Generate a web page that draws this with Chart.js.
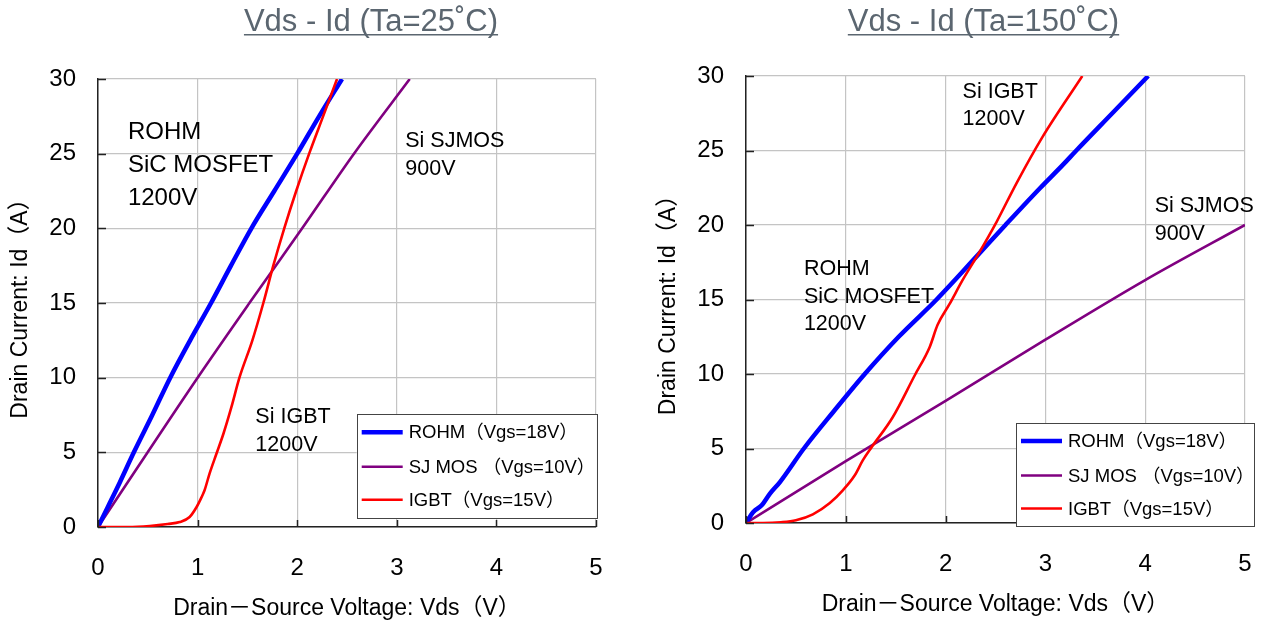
<!DOCTYPE html>
<html><head><meta charset="utf-8">
<script src="https://cdn.jsdelivr.net/npm/chart.js@4.4.1/dist/chart.umd.min.js"></script>
<style>
html,body{margin:0;padding:0;background:#fff;}
#wrap{position:relative;width:1262px;height:626px;overflow:hidden;background:#fff;}
canvas{position:absolute;top:0;}
</style></head><body>
<div id="wrap">
<canvas id="c25" width="631" height="626" style="left:0px"></canvas>
<canvas id="c150" width="631" height="626" style="left:631px"></canvas>
</div>
<script>
// ---------- data ----------
const xTicks = [0, 1, 2, 3, 4, 5];
const yTicks = [0, 5, 10, 15, 20, 25, 30];
const seriesLabels = ['ROHM（Vgs=18V）', 'SJ MOS （Vgs=10V）', 'IGBT（Vgs=15V）'];
const chartTitles = ['Vds - Id (Ta=25˚C)', 'Vds - Id (Ta=150˚C)'];
const xTitle = 'Drain－Source Voltage: Vds（V）';
const yTitle = 'Drain Current: Id（A）';

// Ta = 25 C
const rohm25V = [0, 0.10, 0.22, 0.36, 0.545, 0.725, 0.925, 1.135, 1.335, 1.54, 1.77, 2.0, 2.22, 2.45];
const rohm25I = [0, 1.36, 3.0, 5.0, 7.5, 10, 12.5, 15, 17.5, 20, 22.5, 25, 27.5, 30];
const sj25V = [0, 1.0, 1.52, 2.05, 2.57, 3.13];
const sj25I = [0, 10, 15, 20, 25, 30];
const igbt25V = [0, 0.3, 0.52, 0.7, 0.82, 0.92, 0.99, 1.04, 1.07, 1.12, 1.19, 1.26, 1.34, 1.42, 1.55, 1.66, 1.76, 1.87, 1.99, 2.12, 2.26, 2.40];
const igbt25I = [0, 0, 0.07, 0.2, 0.33, 0.67, 1.34, 2.0, 2.46, 3.58, 4.92, 6.26, 8.04, 10, 12.5, 15, 17.5, 20, 22.5, 25, 27.5, 30];

// Ta = 150 C
const rohm150V = [0, 0.073, 0.157, 0.24, 0.34, 0.58, 0.88, 1.19, 1.53, 1.91, 2.32, 2.6, 2.95, 3.17, 3.31, 3.67, 4.03];
const rohm150I = [0, 0.74, 1.19, 1.97, 2.75, 5, 7.5, 10, 12.5, 15, 17.96, 20, 22.5, 24, 25, 27.5, 30];
const sj150V = [0, 1, 2, 3, 4, 5];
const sj150I = [0, 4.15, 8.2, 12.3, 16.3, 20];
const igbt150V = [0, 0.17, 0.35, 0.5, 0.67, 0.84, 0.97, 1.09, 1.17, 1.26, 1.47, 1.69, 1.84, 1.92, 2.04, 2.17, 2.32, 2.51, 2.71, 2.97, 3.37];
const igbt150I = [0, 0, 0.05, 0.18, 0.58, 1.34, 2.19, 3.2, 4.2, 5.1, 7.1, 9.9, 11.8, 13.3, 14.7, 16.3, 17.96, 20.2, 22.8, 25.9, 30];

// annotation texts
const notes25Text = [['ROHM', 'SiC MOSFET', '1200V'], ['Si SJMOS', '900V'], ['Si IGBT', '1200V']];
const notes150Text = [['Si IGBT', '1200V'], ['ROHM', 'SiC MOSFET', '1200V'], ['Si SJMOS', '900V']];

// ---------- styling / layout ----------
const FONT = "'Liberation Sans','Noto Sans CJK JP',Arial,sans-serif";
const COLORS = ['#0000ff', '#800080', '#ff0000'];
const WIDTHS = [4.5, 2.6, 2.6];
const ORDERS = [1, 2, 0];

function pts(xs, ys) { return xs.map((x, i) => ({x: x, y: ys[i]})); }

function makeSets(vArrs, iArrs) {
  return vArrs.map((v, k) => ({
    label: seriesLabels[k],
    data: pts(v, iArrs[k]),
    borderColor: COLORS[k],
    backgroundColor: COLORS[k],
    borderWidth: WIDTHS[k],
    pointRadius: 0,
    showLine: true,
    cubicInterpolationMode: 'monotone',
    order: ORDERS[k]
  }));
}

const decor = {
  id: 'decor',
  afterDraw(chart, args, o) {
    const ctx = chart.ctx, a = chart.chartArea, xs = chart.scales.x, ys = chart.scales.y;
    ctx.save();
    // inner tick marks
    ctx.strokeStyle = '#222'; ctx.lineWidth = 1.5;
    yTicks.forEach(t => {
      const p = Math.round(ys.getPixelForValue(t)) + 0.5;
      ctx.beginPath(); ctx.moveTo(a.left, p); ctx.lineTo(a.left + 8, p); ctx.stroke();
    });
    xTicks.forEach(t => {
      const p = Math.round(xs.getPixelForValue(t)) + 0.5;
      ctx.beginPath(); ctx.moveTo(p, a.bottom); ctx.lineTo(p, a.bottom - 7); ctx.stroke();
    });
    // title with underline
    ctx.font = '31px ' + FONT; ctx.fillStyle = '#5b6670';
    ctx.textAlign = 'center'; ctx.textBaseline = 'alphabetic';
    ctx.fillText(o.title, o.titleX, o.titleY);
    const w = ctx.measureText(o.title).width;
    ctx.fillRect(o.titleX - w / 2, o.titleY + 3, w, 1.5);
    // annotations
    ctx.fillStyle = '#000'; ctx.textAlign = 'left';
    o.notes.forEach(n => {
      ctx.font = n.size + 'px ' + FONT;
      const x = xs.getPixelForValue(n.v), y = ys.getPixelForValue(n.i);
      n.lines.forEach((l, k) => ctx.fillText(l, x, y + k * n.lh));
    });
    // legend
    const L = o.legend;
    const right = a.right + L.dRight, bottom = a.bottom + L.dBottom;
    const left = right - L.w, top = bottom - L.h;
    ctx.fillStyle = '#fff'; ctx.fillRect(left, top, L.w, L.h);
    ctx.strokeStyle = '#444'; ctx.lineWidth = 1;
    ctx.strokeRect(Math.round(left) + 0.5, Math.round(top) + 0.5, Math.round(L.w), Math.round(L.h));
    ctx.font = '18.5px ' + FONT; ctx.textBaseline = 'middle'; ctx.textAlign = 'left';
    const rows = [18, 52.5, 85.5];
    chart.data.datasets.forEach((d, k) => {
      const y = top + rows[k];
      ctx.strokeStyle = d.borderColor; ctx.lineWidth = d.borderWidth;
      ctx.beginPath(); ctx.moveTo(left + 5, y); ctx.lineTo(left + 46, y); ctx.stroke();
      ctx.fillStyle = '#000';
      ctx.fillText(d.label, left + 52, y + 1);
    });
    ctx.restore();
  }
};

function makeChart(id, datasets, cfg) {
  return new Chart(document.getElementById(id), {
    type: 'scatter',
    data: {datasets: datasets},
    options: {
      responsive: false, devicePixelRatio: 1, animation: false,
      layout: {padding: {left: 0, right: cfg.padRight, top: cfg.padTop, bottom: 0}},
      plugins: {legend: {display: false}, tooltip: {enabled: false}, decor: cfg.decor},
      scales: {
        x: {
          type: 'linear', min: 0, max: 5,
          afterBuildTicks: s => { s.ticks = xTicks.map(v => ({value: v})); },
          ticks: {padding: 27, font: {size: 24, family: FONT}, color: '#000'},
          grid: {color: '#c4c4c4', drawTicks: false, lineWidth: 1.2},
          border: {color: '#222', width: 1.5},
          title: {display: true, text: xTitle, font: {size: 23, family: FONT}, color: '#000', padding: {top: 0, bottom: cfg.xTitlePad}},
          afterFit: s => { s.height = cfg.xAxisH; s.paddingLeft = 0; s.paddingRight = 0; }
        },
        y: {
          type: 'linear', min: 0, max: 30,
          afterBuildTicks: s => { s.ticks = yTicks.map(v => ({value: v})); },
          ticks: {padding: 22, font: {size: 24, family: FONT}, color: '#000'},
          grid: {color: '#c4c4c4', drawTicks: false, lineWidth: 1.2},
          border: {color: '#222', width: 1.5},
          title: {display: true, text: yTitle, font: {size: 23, family: FONT}, color: '#000', padding: {top: cfg.yTitlePad, bottom: 0}},
          afterFit: s => { s.width = cfg.yAxisW; s.paddingTop = 0; s.paddingBottom = 0; }
        }
      }
    },
    plugins: [decor]
  });
}

makeChart('c25', makeSets([rohm25V, sj25V, igbt25V], [rohm25I, sj25I, igbt25I]), {
  padRight: 35, padTop: 79, xAxisH: 99, yAxisW: 98, xTitlePad: 3.5, yTitlePad: 7,
  decor: {
    title: chartTitles[0], titleX: 371, titleY: 31,
    notes: [
      {lines: notes25Text[0], v: 0.30, i: 26.0, size: 24, lh: 33},
      {lines: notes25Text[1], v: 3.085, i: 25.45, size: 21.5, lh: 28},
      {lines: notes25Text[2], v: 1.58, i: 6.95, size: 21.5, lh: 27.5}
    ],
    legend: {dRight: 0.7, dBottom: -8.7, w: 240, h: 104}
  }
});

makeChart('c150', makeSets([rohm150V, sj150V, igbt150V], [rohm150I, sj150I, igbt150I]), {
  padRight: 17, padTop: 76, xAxisH: 103, yAxisW: 115, xTitlePad: 7.5, yTitlePad: 23.5,
  decor: {
    title: chartTitles[1], titleX: 352.5, titleY: 31,
    notes: [
      {lines: notes150Text[0], v: 2.17, i: 28.55, size: 21.5, lh: 27},
      {lines: notes150Text[1], v: 0.58, i: 16.62, size: 21.5, lh: 27.2},
      {lines: notes150Text[2], v: 4.095, i: 20.9, size: 21.5, lh: 28}
    ],
    legend: {dRight: 9, dBottom: 3, w: 238, h: 103}
  }
});
</script>
</body></html>
